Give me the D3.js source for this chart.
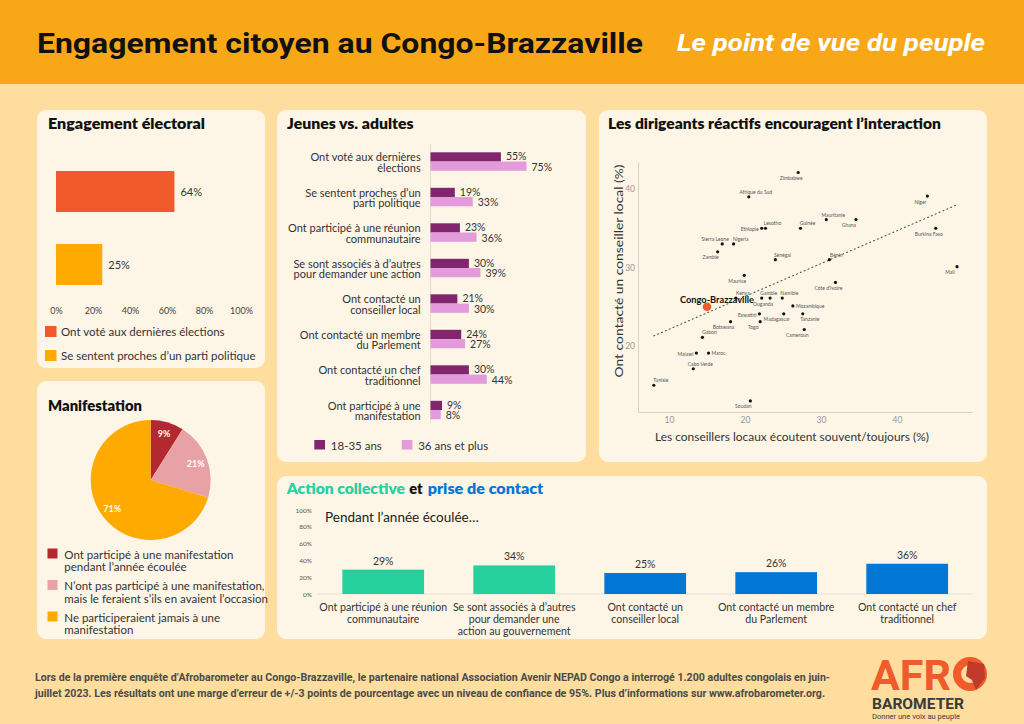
<!DOCTYPE html>
<html><head><meta charset="utf-8">
<script src="https://cdn.jsdelivr.net/npm/d3@7"></script>
<style>body{margin:0;background:#FEDD9F;} svg{display:block}</style>
</head><body>
<svg id="c" width="1024" height="724"></svg>
<script>
// ---------------- DATA ----------------
const headerTitle = "Engagement citoyen au Congo-Brazzaville";
const headerSubtitle = "Le point de vue du peuple";

const electoralTitle = "Engagement électoral";
const electoralCategories = ["Ont voté aux dernières élections", "Se sentent proches d’un parti politique"];
const electoralValues = [64, 25];
const electoralTicks = [0, 20, 40, 60, 80, 100];

const protestTitle = "Manifestation";
const protestCategories = [
  "Ont participé à une manifestation\npendant l’année écoulée",
  "N’ont pas participé à une manifestation,\nmais le feraient s’ils en avaient l’occasion",
  "Ne participeraient jamais à une\nmanifestation"];
const protestValues = [9, 21, 71];

const ageTitle = "Jeunes vs. adultes";
const ageCategories = [
  "Ont voté aux dernières\nélections",
  "Se sentent proches d’un\nparti politique",
  "Ont participé à une réunion\ncommunautaire",
  "Se sont associés à d’autres\npour demander une action",
  "Ont contacté un\nconseiller local",
  "Ont contacté un membre\ndu Parlement",
  "Ont contacté un chef\ntraditionnel",
  "Ont participé à une\nmanifestation"];
const ageSeries = ["18-35 ans", "36 ans et plus"];
const youthValues = [55, 19, 23, 30, 21, 24, 30, 9];
const adultValues = [75, 33, 36, 39, 30, 27, 44, 8];

const scatterTitle = "Les dirigeants réactifs encouragent l’interaction";
const scatterXLabel = "Les conseillers locaux écoutent souvent/toujours (%)";
const scatterYLabel = "Ont contacté un conseiller local (%)";
const scatterXTicks = [10, 20, 30, 40];
const scatterYTicks = [20, 30, 40];
const countries = ["Zimbabwe","Afrique du Sud","Ethiopie","Lesotho","Sierra Leone","Nigeria","Zambie","Sénégal","Maurice","Congo-Brazzaville","Kenya","Gambie","Ouganda","Namibie","Mozambique","Eswatini","Madagascar","Tanzanie","Togo","Botswana","Cameroun","Gabon","Malawi","Maroc","Cabo Verde","Tunisie","Soudan","Niger","Mauritanie","Ghana","Guinée","Burkina Faso","Bénin","Mali","Côte d’Ivoire"];
const listenValues  = [27.0,20.5,22.2,22.7,17.0,18.5,16.4,24.0,19.9,15.0,18.8,22.2,23.3,24.9,26.3,21.9,25.1,27.6,22.0,18.1,27.8,14.4,13.6,15.2,13.2,8.0,20.7,44.0,30.7,34.6,27.3,45.1,31.1,47.9,31.9];
const contactValues = [42.1,39.0,35.0,35.0,33.0,33.0,32.0,31.0,29.0,25.0,26.1,26.1,26.1,26.1,25.1,24.1,24.1,24.1,23.1,23.1,22.1,21.1,19.1,19.1,17.1,15.0,13.0,39.1,36.1,36.1,35.0,35.0,31.0,30.1,28.1];
const focusCountry = "Congo-Brazzaville";

const actionTitleParts = ["Action collective", "et", "prise de contact"];
const actionSubtitle = "Pendant l’année écoulée…";
const actionCategories = [
  "Ont participé à une réunion\ncommunautaire",
  "Se sont associés à d’autres\npour demander une\naction au gouvernement",
  "Ont contacté un\nconseiller local",
  "Ont contacté un membre\ndu Parlement",
  "Ont contacté un chef\ntraditionnel"];
const actionValues = [29, 34, 25, 26, 36];
const actionTypes = ["collective", "collective", "contact", "contact", "contact"];
const actionTicks = [0, 20, 40, 60, 80, 100];

const footerLines = [
  "Lors de la première enquête d’Afrobarometer au Congo-Brazzaville, le partenaire national Association Avenir NEPAD Congo a interrogé 1.200 adultes congolais en juin-",
  "juillet 2023. Les résultats ont une marge d’erreur de +/-3 points de pourcentage avec un niveau de confiance de 95%. Plus d’informations sur www.afrobarometer.org."];

// ---------------- STYLE ----------------
const FONT = "Lato, 'Open Sans', sans-serif";
const TITLEFONT = "Lato, 'Open Sans', sans-serif";
const C = {
  page: "#FEDD9F", header: "#F8A817", panel: "#FDF6E7", text: "#333",
  orange: "#F15A2B", amber: "#FFAA00", darkred: "#B4282F", pink: "#E8A1A5",
  purple: "#83246F", lilac: "#E39BDB", green: "#26D19E", blue: "#0277D6"
};
const pct = d => d + "%";

const svg = d3.select("#c");
svg.append("rect").attr("width", 1024).attr("height", 724).attr("fill", C.page);
svg.append("rect").attr("width", 1024).attr("height", 84).attr("fill", C.header);

svg.append("text").attr("x", 37).attr("y", 53).text(headerTitle)
  .attr("font-family", "Roboto, 'Liberation Sans', sans-serif").attr("font-weight", 700)
  .attr("font-size", 28).attr("fill", "#111")
  .attr("textLength", 606).attr("lengthAdjust", "spacingAndGlyphs");
svg.append("text").attr("x", 677).attr("y", 51).text(headerSubtitle)
  .attr("font-family", "Roboto, 'Liberation Sans', sans-serif").attr("font-weight", 700)
  .attr("font-style", "italic").attr("font-size", 23).attr("fill", "#fff")
  .attr("textLength", 308).attr("lengthAdjust", "spacingAndGlyphs");

const panelBoxes = [[37,110,228,258],[37,381,228,258],[277,110,309,352],[599,110,388,352],[277,476,710,163]];
svg.selectAll("rect.panel").data(panelBoxes).join("rect").attr("class", "panel")
  .attr("x", d => d[0]).attr("y", d => d[1]).attr("width", d => d[2]).attr("height", d => d[3])
  .attr("rx", 9).attr("fill", C.panel);

function title(x, y, txt, len, color) {
  return svg.append("text").attr("x", x).attr("y", y).text(txt)
    .attr("font-family", TITLEFONT).attr("font-weight", 800).attr("font-size", 15)
    .attr("fill", color || "#111").attr("textLength", len).attr("lengthAdjust", "spacingAndGlyphs");
}
function multiline(g, txt, x, yCenter, lh, anchor, size, color) {
  const lines = txt.split("\n");
  const t = g.append("text").attr("text-anchor", anchor).attr("font-family", FONT)
    .attr("font-size", size).attr("fill", color || C.text).attr("dominant-baseline", "central");
  lines.forEach((l, i) => t.append("tspan").attr("x", x)
    .attr("y", yCenter + (i - (lines.length - 1) / 2) * lh).text(l));
  return t;
}

// ---------- Panel 1: Engagement électoral ----------
{
  const g = svg.append("g");
  title(48, 129, electoralTitle, 157);
  const x = d3.scaleLinear().domain([0, 100]).range([56, 241]);
  const y = d3.scaleBand().domain(electoralCategories).range([149.1, 306.9]).paddingInner(0.438).paddingOuter(0.3);
  const col = [C.orange, C.amber];
  g.selectAll("rect.b").data(electoralValues).join("rect")
    .attr("x", x(0)).attr("y", (d, i) => y(electoralCategories[i]))
    .attr("width", d => x(d) - x(0)).attr("height", y.bandwidth()).attr("fill", (d, i) => col[i]);
  g.selectAll("text.v").data(electoralValues).join("text")
    .attr("x", d => x(d) + 6).attr("y", (d, i) => y(electoralCategories[i]) + y.bandwidth() / 2)
    .attr("dominant-baseline", "central").attr("font-family", FONT).attr("font-size", 11)
    .attr("fill", C.text).text(pct);
  const ax = g.append("g").attr("transform", "translate(0,308)")
    .call(d3.axisBottom(x).tickValues(electoralTicks).tickFormat(pct).tickSize(0).tickPadding(0));
  ax.select(".domain").remove();
  ax.selectAll("text").attr("font-family", FONT).attr("font-size", 9).attr("fill", "#444");
  electoralCategories.forEach((c, i) => {
    const yy = 331.5 + i * 24;
    g.append("rect").attr("x", 45).attr("y", yy - 5.5).attr("width", 11.5).attr("height", 11).attr("fill", col[i]);
    g.append("text").attr("x", 61).attr("y", yy).attr("dominant-baseline", "central")
      .attr("font-family", FONT).attr("font-size", 11.5).attr("fill", C.text).text(c);
  });
}

// ---------- Panel 2: Manifestation ----------
{
  const g = svg.append("g");
  title(48, 411, protestTitle, 94);
  const col = [C.darkred, C.pink, C.amber];
  const pie = d3.pie().sort(null)(protestValues);
  const arc = d3.arc().innerRadius(0).outerRadius(60);
  const lab = d3.arc().innerRadius(48).outerRadius(48);
  const pg = g.append("g").attr("transform", "translate(150.7,480)");
  pg.selectAll("path").data(pie).join("path").attr("d", arc).attr("fill", (d, i) => col[i]);
  pg.selectAll("text").data(pie).join("text")
    .attr("transform", d => `translate(${lab.centroid(d)})`)
    .attr("text-anchor", "middle").attr("dominant-baseline", "central")
    .attr("font-family", FONT).attr("font-weight", 700).attr("font-size", 9).attr("fill", "#fff")
    .text(d => pct(d.data));
  const ys = [560, 591.5, 623];
  protestCategories.forEach((c, i) => {
    g.append("rect").attr("x", 47.5).attr("y", ys[i] - 11.5).attr("width", 10).attr("height", 10).attr("fill", col[i]);
    multiline(g, c, 64.3, ys[i], 12.6, "start", 11.5, C.text);
  });
}

// ---------- Panel 3: Jeunes vs adultes ----------
{
  const g = svg.append("g");
  title(287, 129, ageTitle, 126.6);
  const x = d3.scaleLinear().domain([0, 100]).range([430.5, 558.5]);
  const y = d3.scaleBand().domain(ageCategories).range([134.55, 437.05]).paddingInner(0.479).paddingOuter(0.5);
  const ys = d3.scaleBand().domain(ageSeries).range([0, y.bandwidth()]);
  const col = [C.purple, C.lilac];
  g.append("line").attr("x1", x(0)).attr("x2", x(0)).attr("y1", 144).attr("y2", 422)
    .attr("stroke", "#e6dccb").attr("stroke-width", 1);
  const series = [youthValues, adultValues];
  series.forEach((vals, s) => {
    g.selectAll("rect.s" + s).data(vals).join("rect").attr("class", "s" + s)
      .attr("x", x(0)).attr("y", (d, i) => y(ageCategories[i]) + ys(ageSeries[s]))
      .attr("width", d => x(d) - x(0)).attr("height", ys.bandwidth()).attr("fill", col[s]);
    g.selectAll("text.s" + s).data(vals).join("text").attr("class", "s" + s)
      .attr("x", d => x(d) + 5).attr("y", (d, i) => y(ageCategories[i]) + ys(ageSeries[s]) + ys.bandwidth() / 2 + (s === 0 ? -0.5 : 0.5))
      .attr("dominant-baseline", "central").attr("font-family", FONT).attr("font-size", 10.5)
      .attr("fill", C.text).text(pct);
  });
  ageCategories.forEach(c => multiline(g, c, 420.7, y(c) + y.bandwidth() / 2, 10.8, "end", 11, C.text));
  const lx = [314.3, 401.7];
  ageSeries.forEach((s, i) => {
    g.append("rect").attr("x", lx[i]).attr("y", 440).attr("width", 10.7).attr("height", 9.5).attr("fill", col[i]);
    g.append("text").attr("x", lx[i] + 16.5).attr("y", 445).attr("dominant-baseline", "central")
      .attr("font-family", FONT).attr("font-size", 11.5).attr("fill", C.text).text(s);
  });
}

// ---------- Panel 4: Scatter ----------
{
  const g = svg.append("g");
  title(608, 129, scatterTitle, 333);
  const x = d3.scaleLinear().domain([5.92, 49.87]).range([638, 972]);
  const y = d3.scaleLinear().domain([11.59, 43.44]).range([412, 162]);
  const axx = g.append("g").attr("transform", "translate(0,412)")
    .call(d3.axisBottom(x).tickValues(scatterXTicks).tickSize(0).tickPadding(5));
  const axy = g.append("g").attr("transform", "translate(638,0)")
    .call(d3.axisLeft(y).tickValues(scatterYTicks).tickSize(0).tickPadding(3));
  [axx, axy].forEach(a => {
    a.select(".domain").attr("stroke", "#d9d2c4").attr("stroke-width", 1);
    a.selectAll("text").attr("font-family", FONT).attr("font-size", 8.5).attr("fill", "#999");
  });
  g.append("text").attr("x", 792).attr("y", 441).attr("text-anchor", "middle")
    .attr("font-family", FONT).attr("font-size", 12).attr("fill", C.text)
    .attr("textLength", 274).attr("lengthAdjust", "spacingAndGlyphs").text(scatterXLabel);
  g.append("text").attr("transform", "translate(623,271) rotate(-90)").attr("text-anchor", "middle")
    .attr("font-family", FONT).attr("font-size", 12).attr("fill", C.text)
    .attr("textLength", 213).attr("lengthAdjust", "spacingAndGlyphs").text(scatterYLabel);

  // least-squares trend line
  const mx = d3.mean(listenValues), my = d3.mean(contactValues);
  const b = d3.sum(listenValues, (v, i) => (v - mx) * (contactValues[i] - my)) / d3.sum(listenValues, v => (v - mx) ** 2);
  const a0 = my - b * mx;
  const [x0, x1] = d3.extent(listenValues);
  g.append("line").attr("x1", x(x0)).attr("y1", y(a0 + b * x0)).attr("x2", x(x1)).attr("y2", y(a0 + b * x1))
    .attr("stroke", "#555").attr("stroke-width", 1.1).attr("stroke-dasharray", "1 3.2").attr("stroke-linecap", "round");

  const place = {
    "Zimbabwe":"bl","Afrique du Sud":"tr","Ethiopie":"l","Lesotho":"tr","Sierra Leone":"tl","Nigeria":"tr",
    "Zambie":"bl","Sénégal":"tr","Maurice":"bl","Kenya":"tr","Gambie":"tr","Ouganda":"bl","Namibie":"tr",
    "Mozambique":"r","Eswatini":"l","Madagascar":"bl","Tanzanie":"br","Togo":"bl","Botswana":"bl",
    "Cameroun":"bl","Gabon":"tr","Malawi":"l","Maroc":"r","Cabo Verde":"tr","Tunisie":"tr","Soudan":"bl",
    "Niger":"bl","Mauritanie":"tr","Ghana":"bl","Guinée":"tr","Burkina Faso":"bl","Bénin":"tr","Mali":"bl",
    "Côte d’Ivoire":"bl"};
  const off = { tr:[7,-5,"middle"], tl:[-7,-5,"middle"], bl:[-7,5.5,"middle"], br:[7,5.5,"middle"], l:[-3,1,"end"], r:[3,0,"start"] };
  const pts = countries.map((c, i) => ({ c, x: listenValues[i], y: contactValues[i] }));
  const others = pts.filter(p => p.c !== focusCountry);
  g.selectAll("circle.p").data(others).join("circle").attr("class", "p")
    .attr("cx", d => x(d.x)).attr("cy", d => y(d.y)).attr("r", 1.6).attr("fill", "#111");
  g.selectAll("text.p").data(others).join("text").attr("class", "p")
    .attr("x", d => x(d.x) + off[place[d.c]][0]).attr("y", d => y(d.y) + off[place[d.c]][1])
    .attr("text-anchor", d => off[place[d.c]][2]).attr("dominant-baseline", "central")
    .attr("font-family", FONT).attr("font-size", 5).attr("fill", "#555").text(d => d.c);
  const f = pts.find(p => p.c === focusCountry);
  g.append("circle").attr("cx", x(f.x)).attr("cy", y(f.y)).attr("r", 4.3).attr("fill", C.orange);
  g.append("text").attr("x", x(f.x) + 10).attr("y", y(f.y) - 7).attr("text-anchor", "middle")
    .attr("dominant-baseline", "central").attr("font-family", FONT).attr("font-weight", 700)
    .attr("font-size", 9.5).attr("fill", "#111").attr("textLength", 74).attr("lengthAdjust", "spacingAndGlyphs").text(f.c);
}

// ---------- Panel 5: Action collective ----------
{
  const g = svg.append("g");
  title(286.7, 494, actionTitleParts[0], 118.3, C.green);
  title(409.3, 494, actionTitleParts[1], 13.4, "#111");
  title(427.7, 494, actionTitleParts[2], 115.6, C.blue);
  const x = d3.scaleBand().domain(actionCategories).range([317.7, 972.7]).paddingInner(0.376).paddingOuter(0.188);
  const y = d3.scaleLinear().domain([0, 100]).range([594, 510]);
  const ay = g.append("g").attr("transform", "translate(313,0)")
    .call(d3.axisLeft(y).tickValues(actionTicks).tickFormat(pct).tickSize(0).tickPadding(1));
  ay.select(".domain").remove();
  ay.selectAll("text").attr("font-family", FONT).attr("font-size", 6.5).attr("fill", "#555");
  g.append("line").attr("x1", 318).attr("x2", 972).attr("y1", y(0)).attr("y2", y(0)).attr("stroke", "#e9e0d0");
  g.append("text").attr("x", 325).attr("y", 517).attr("dominant-baseline", "central")
    .attr("font-family", FONT).attr("font-size", 13.5).attr("fill", "#222").text(actionSubtitle);
  g.selectAll("rect.a").data(actionValues).join("rect")
    .attr("x", (d, i) => x(actionCategories[i])).attr("y", d => y(d))
    .attr("width", x.bandwidth()).attr("height", d => y(0) - y(d))
    .attr("fill", (d, i) => actionTypes[i] === "collective" ? C.green : C.blue);
  g.selectAll("text.v").data(actionValues).join("text")
    .attr("x", (d, i) => x(actionCategories[i]) + x.bandwidth() / 2).attr("y", d => y(d) - 9)
    .attr("text-anchor", "middle").attr("dominant-baseline", "central")
    .attr("font-family", FONT).attr("font-size", 10.5).attr("fill", C.text).text(pct);
  actionCategories.forEach(c => {
    const n = c.split("\n").length;
    multiline(g, c, x(c) + x.bandwidth() / 2, 606.7 + (n - 1) * 12.2 / 2, 12.2, "middle", 10.6, C.text);
  });
}

// ---------- Footer ----------
footerLines.forEach((l, i) => {
  svg.append("text").attr("x", 35).attr("y", 681 + i * 15.5).text(l)
    .attr("font-family", "'Liberation Sans Narrow', Roboto, sans-serif").attr("font-weight", 700)
    .attr("font-size", 10.5).attr("fill", "#4a4a4a")
    .attr("textLength", i === 0 ? 795 : 790).attr("lengthAdjust", "spacingAndGlyphs");
});
// logo
{
  const g = svg.append("g");
  g.append("text").attr("x", 871).attr("y", 690).text("AFR")
    .attr("font-family", "Roboto, 'Liberation Sans', sans-serif").attr("font-weight", 700)
    .attr("font-size", 42).attr("fill", C.orange).attr("textLength", 80).attr("lengthAdjust", "spacingAndGlyphs");
  g.append("circle").attr("cx", 970).attr("cy", 674).attr("r", 13).attr("fill", "none")
    .attr("stroke", C.orange).attr("stroke-width", 8);
  g.append("path").attr("d", "M968,661 L984,664 L985,678 L976,690 L972,680 L966,676 Z").attr("fill", "#C0392B");
  g.append("text").attr("x", 872).attr("y", 708.5).text("BAROMETER")
    .attr("font-family", "Roboto, 'Liberation Sans', sans-serif").attr("font-weight", 700)
    .attr("font-size", 14).attr("fill", "#3a3a3a").attr("textLength", 92).attr("lengthAdjust", "spacingAndGlyphs");
  g.append("text").attr("x", 872).attr("y", 718.5).text("Donner une voix au peuple")
    .attr("font-family", "Roboto, 'Liberation Sans', sans-serif")
    .attr("font-size", 7.5).attr("fill", "#3a3a3a").attr("textLength", 88).attr("lengthAdjust", "spacingAndGlyphs");
}
</script>
</body></html>
